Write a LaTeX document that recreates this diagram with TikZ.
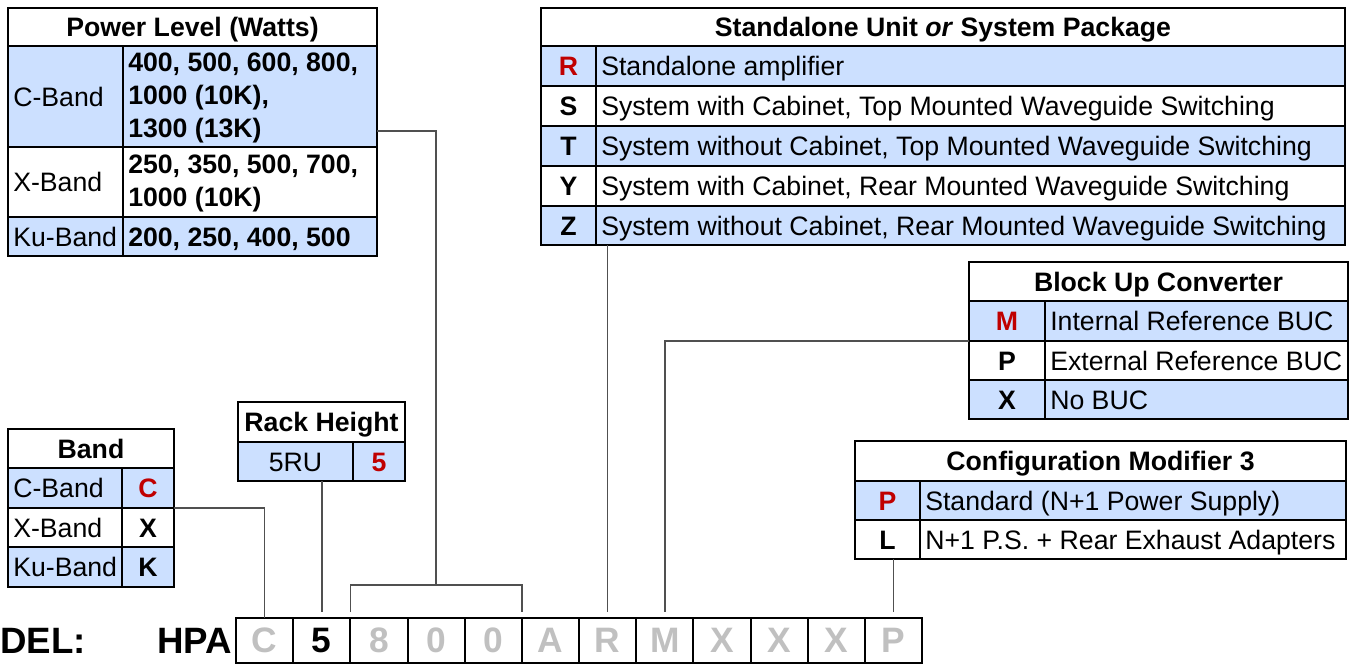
\documentclass[tikz,border=0pt]{standalone}
\usepackage{fontspec}
\setmainfont{Liberation Sans}
\usetikzlibrary{calc}
\definecolor{cellblue}{RGB}{204,224,255}
\definecolor{selred}{RGB}{192,0,0}
\definecolor{lettergray}{RGB}{192,192,192}
\definecolor{linkgray}{RGB}{80,80,80}
\tikzset{
  cellbox/.style={draw=black, line width=1.5pt, inner sep=0pt, outer sep=0pt},
  celltext/.style={inner sep=0pt, font=\fontsize{20}{24.5}\selectfont, align=left},
  modelbox/.style={draw=black, line width=1.5pt, inner sep=0pt, outer sep=0pt,
    minimum width=42.9pt, minimum height=33.75pt, anchor=north west,
    font=\fontsize{26.5}{30}\selectfont\bfseries},
  link/.style={draw=linkgray, line width=1.2pt},
  bigtext/.style={inner sep=0pt, font=\fontsize{27.5}{30}\selectfont\bfseries}
}
\newcommand{\tcell}[6]{%
  \pgfmathsetmacro\tcw{(#4-#2)*0.75}%
  \pgfmathsetmacro\tch{(#5-#3)*0.75}%
  \node[cellbox, fill=#6, minimum width=\tcw pt, minimum height=\tch pt, anchor=north west] (#1) at (#2,#3) {};}
\newcommand{\ltext}[3]{\node[celltext, anchor=base west] (#1) at ($(#2.west)+(5,9.5)$) {#3};}
\newcommand{\ctext}[3]{\node[celltext, anchor=base] (#1) at ($(#2.center)+(0,9.5)$) {#3};}
\newcommand{\mtext}[3]{\node[celltext, anchor=west] (#1) at ($(#2.west)+(5,1.5)$) {#3};}
\begin{document}
\begin{tikzpicture}[x=0.75pt,y=-0.75pt]
\useasboundingbox (0,0) rectangle (1353,668);
\fill[white] (0,0) rectangle (1353,668);
\clip (0,0) rectangle (1353,668);

% ---------- Power Level ----------
\tcell{plH}{8}{8}{377}{46}{white}
\ctext{plHt}{plH}{\bfseries Power Level (Watts)}
\tcell{plCl}{8}{46}{123}{147}{cellblue}
\ltext{plClt}{plCl}{C-Band}
\tcell{plCv}{123}{46}{377}{147}{cellblue}
\mtext{plCvt}{plCv}{\bfseries 400, 500, 600, 800,\\\bfseries 1000 (10K),\\\bfseries 1300 (13K)}
\tcell{plXl}{8}{147}{123}{217}{white}
\ltext{plXlt}{plXl}{X-Band}
\tcell{plXv}{123}{147}{377}{217}{white}
\mtext{plXvt}{plXv}{\bfseries 250, 350, 500, 700,\\\bfseries 1000 (10K)}
\tcell{plKl}{8}{217}{123}{256}{cellblue}
\ltext{plKlt}{plKl}{Ku-Band}
\tcell{plKv}{123}{217}{377}{256}{cellblue}
\ltext{plKvt}{plKv}{\bfseries 200, 250, 400, 500}

% ---------- Standalone Unit or System Package ----------
\tcell{suH}{541}{8}{1345}{46}{white}
\ctext{suHt}{suH}{\bfseries Standalone Unit \textit{or} System Package}
\tcell{suRl}{541}{46}{596}{86}{cellblue}
\ctext{suRlt}{suRl}{\bfseries\color{selred}R}
\tcell{suRt}{596}{46}{1345}{86}{cellblue}
\ltext{suRtt}{suRt}{Standalone amplifier}
\tcell{suSl}{541}{86}{596}{126}{white}
\ctext{suSlt}{suSl}{\bfseries S}
\tcell{suSt}{596}{86}{1345}{126}{white}
\ltext{suStt}{suSt}{System with Cabinet, Top Mounted Waveguide Switching}
\tcell{suTl}{541}{126}{596}{166}{cellblue}
\ctext{suTlt}{suTl}{\bfseries T}
\tcell{suTt}{596}{126}{1345}{166}{cellblue}
\ltext{suTtt}{suTt}{System without Cabinet, Top Mounted Waveguide Switching}
\tcell{suYl}{541}{166}{596}{206}{white}
\ctext{suYlt}{suYl}{\bfseries Y}
\tcell{suYt}{596}{166}{1345}{206}{white}
\ltext{suYtt}{suYt}{System with Cabinet, Rear Mounted Waveguide Switching}
\tcell{suZl}{541}{206}{596}{245}{cellblue}
\ctext{suZlt}{suZl}{\bfseries Z}
\tcell{suZt}{596}{206}{1345}{245}{cellblue}
\ltext{suZtt}{suZt}{System without Cabinet, Rear Mounted Waveguide Switching}

% ---------- Block Up Converter ----------
\tcell{buH}{969}{262}{1348}{301}{white}
\ctext{buHt}{buH}{\bfseries Block Up Converter}
\tcell{buMl}{969}{301}{1045}{341}{cellblue}
\ctext{buMlt}{buMl}{\bfseries\color{selred}M}
\tcell{buMt}{1045}{301}{1348}{341}{cellblue}
\ltext{buMtt}{buMt}{Internal Reference BUC}
\tcell{buPl}{969}{341}{1045}{380}{white}
\ctext{buPlt}{buPl}{\bfseries P}
\tcell{buPt}{1045}{341}{1348}{380}{white}
\ltext{buPtt}{buPt}{External Reference BUC}
\tcell{buXl}{969}{380}{1045}{419}{cellblue}
\ctext{buXlt}{buXl}{\bfseries X}
\tcell{buXt}{1045}{380}{1348}{419}{cellblue}
\ltext{buXtt}{buXt}{No BUC}

% ---------- Configuration Modifier 3 ----------
\tcell{cmH}{855}{441}{1346}{481}{white}
\ctext{cmHt}{cmH}{\bfseries Configuration Modifier 3}
\tcell{cmPl}{855}{481}{920}{520}{cellblue}
\ctext{cmPlt}{cmPl}{\bfseries\color{selred}P}
\tcell{cmPt}{920}{481}{1346}{520}{cellblue}
\ltext{cmPtt}{cmPt}{Standard (N+1 Power Supply)}
\tcell{cmLl}{855}{520}{920}{559}{white}
\ctext{cmLlt}{cmLl}{\bfseries L}
\tcell{cmLt}{920}{520}{1346}{559}{white}
\ltext{cmLtt}{cmLt}{N+1 P.S. + Rear Exhaust Adapters}

% ---------- Rack Height ----------
\tcell{rkH}{238}{402}{405}{442}{white}
\ctext{rkHt}{rkH}{\bfseries Rack Height}
\tcell{rkL}{238}{442}{353}{481}{cellblue}
\ctext{rkLt}{rkL}{5RU}
\tcell{rkV}{353}{442}{405}{481}{cellblue}
\ctext{rkVt}{rkV}{\bfseries\color{selred}5}

% ---------- Band ----------
\tcell{bdH}{8}{429}{174}{468}{white}
\ctext{bdHt}{bdH}{\bfseries Band}
\tcell{bdCl}{8}{468}{122}{508}{cellblue}
\ltext{bdClt}{bdCl}{C-Band}
\tcell{bdCv}{122}{468}{174}{508}{cellblue}
\ctext{bdCvt}{bdCv}{\bfseries\color{selred}C}
\tcell{bdXl}{8}{508}{122}{547}{white}
\ltext{bdXlt}{bdXl}{X-Band}
\tcell{bdXv}{122}{508}{174}{547}{white}
\ctext{bdXvt}{bdXv}{\bfseries X}
\tcell{bdKl}{8}{547}{122}{587}{cellblue}
\ltext{bdKlt}{bdKl}{Ku-Band}
\tcell{bdKv}{122}{547}{174}{587}{cellblue}
\ctext{bdKvt}{bdKv}{\bfseries K}

% ---------- Model number ----------
\node[bigtext, anchor=east] (modellbl) at (86,641) {MODEL:};
\node[bigtext, anchor=east] (hpa) at (232,641) {HPA};
\foreach \ch/\col [count=\i] in {C/lettergray,5/black,8/lettergray,0/lettergray,0/lettergray,A/lettergray,R/lettergray,M/lettergray,X/lettergray,X/lettergray,X/lettergray,P/lettergray}
  \node[modelbox, text=\col] (m\i) at ({236+(\i-1)*57.17},618) {\ch};

% ---------- Connectors ----------
\draw[link] (bdCv.south east) -| (m1.north);
\draw[link] (m2.north |- rkL.south) -- ($(m2.north)+(0,-6)$);
\coordinate (plout) at ($(plCv.south east)+(0,-16)$);
\coordinate (brL) at ($(m3.north west)+(0,-6)$);
\coordinate (brR) at ($(m5.north east)+(0,-6)$);
\coordinate (brM) at ($(brL)!0.5!(brR)+(0,-27)$);
\draw[link] (brL) -- ++(0,-27) -| (brR);
\draw[link] (plout) -| (brM);
\draw[link] (m7.north |- suZl.south) -- ($(m7.north)+(0,-6)$);
\draw[link] (buMl.south west) -| ($(m8.north)+(0,-6)$);
\draw[link] (m12.north |- cmLl.south) -- ($(m12.north)+(0,-6)$);
\end{tikzpicture}
\end{document}
